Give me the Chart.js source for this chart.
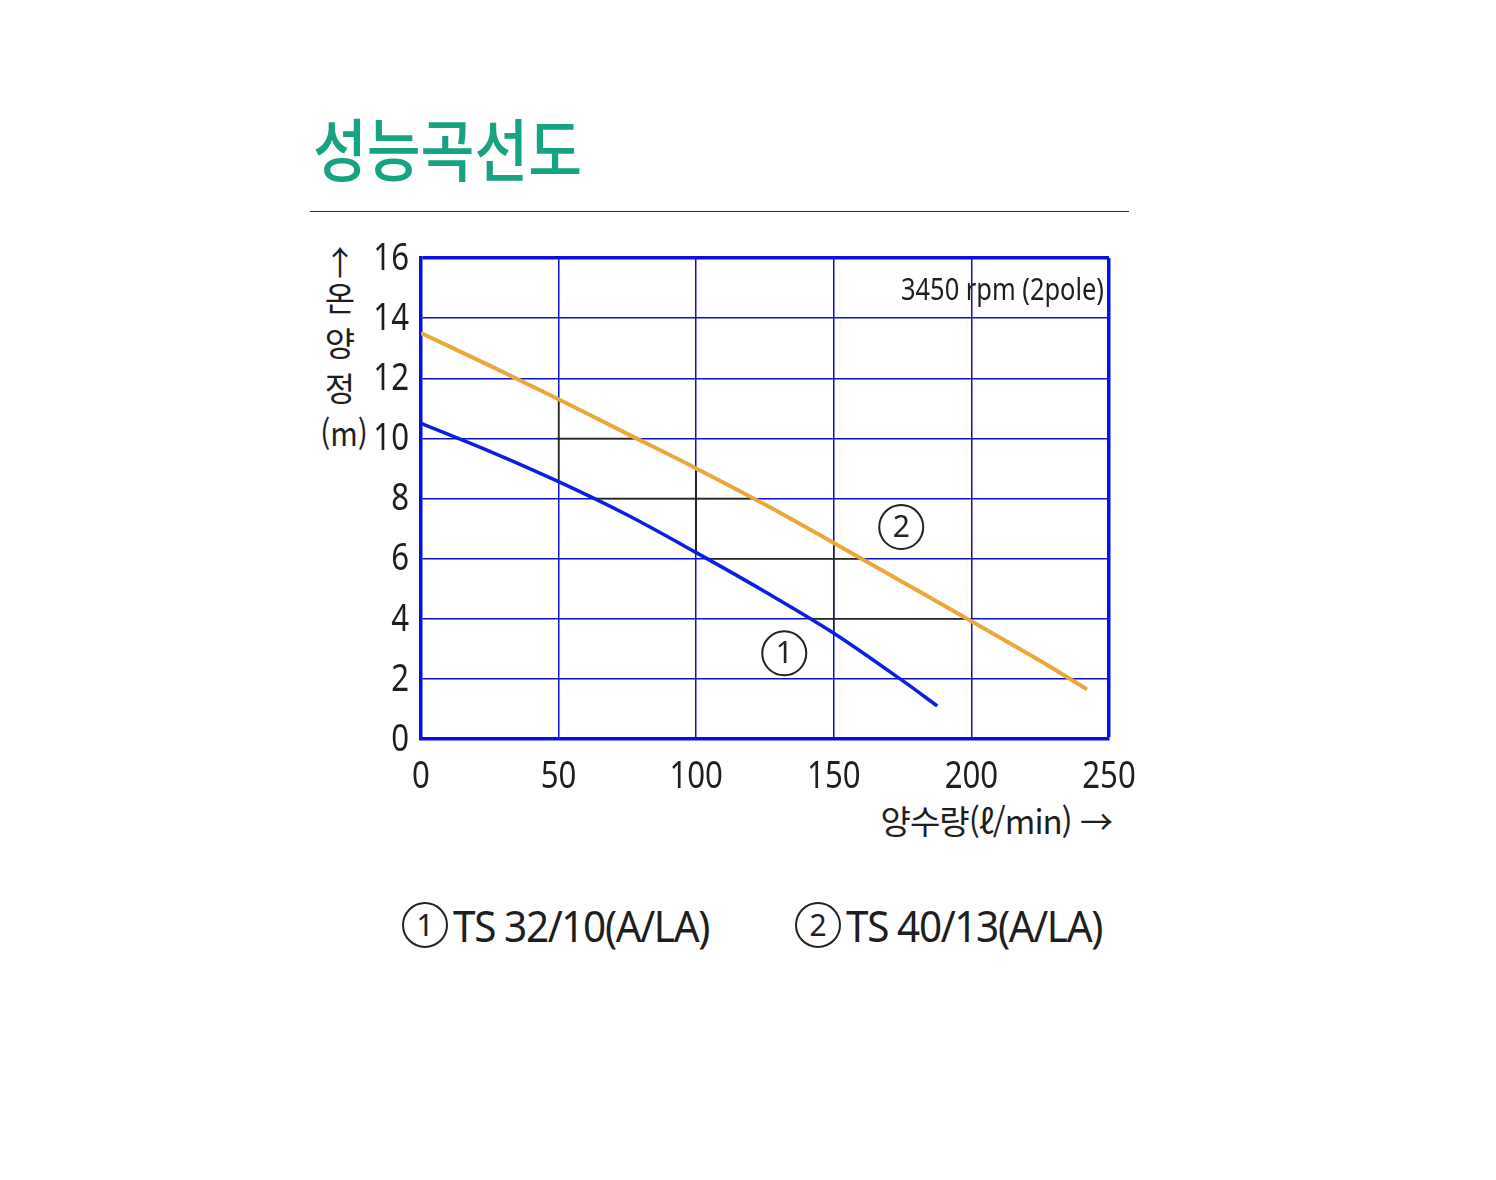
<!DOCTYPE html>
<html lang="ko">
<head>
<meta charset="utf-8">
<title>성능곡선도</title>
<script src="https://cdn.jsdelivr.net/npm/chart.js@4/dist/chart.umd.min.js"></script>
<style>
  html, body { margin: 0; padding: 0; background: #fff; }
  body { width: 1496px; height: 1180px; position: relative; overflow: hidden; }
  #perfChart { position: absolute; left: 0; top: 0; }
  .txt { position: absolute; white-space: nowrap; color: #1e1e1e; line-height: 1; }
  #title {
    left: 313px; top: 97px; font: 500 68px 'Noto Sans CJK KR', sans-serif;
    color: #17a383; transform: scaleX(0.86); transform-origin: left top;
  }
  #rule { position: absolute; left: 310px; top: 211px; width: 819px; height: 0; border-top: 1.5px solid #2a2a2a; }
  #ytitle { left: 318px; top: 237px; width: 44px; text-align: center; font: 400 33px 'Noto Sans CJK KR', sans-serif; }
  #ytitle div { height: 45px; }
  #ytitle div.arrow { height: 36px; }
  #ytitle div.unit { transform: scaleX(0.9); }
  #xtitle { right: 384px; top: 796px; font: 400 33px 'Noto Sans CJK KR', sans-serif; letter-spacing: -1px; }
  .legend { top: 895px; display: flex; align-items: center; }
  .legend .name {
    display: inline-block; font: 400 44px 'Noto Sans', sans-serif; letter-spacing: -1.5px;
    transform: scaleX(0.92); transform-origin: left center;
  }
  .legend .circ {
    display: inline-block; width: 42px; height: 42px; border: 2px solid #222; border-radius: 50%;
    font: 400 30px 'Noto Sans', sans-serif; text-align: center; line-height: 42px; margin-right: 5px;
  }
  #leg1 { left: 402px; }
  #leg2 { left: 795px; }
</style>
</head>
<body>
<div id="title" class="txt">성능곡선도</div>
<div id="rule"></div>
<div id="ytitle" class="txt"><div class="arrow">↑</div><div>온</div><div>양</div><div>정</div><div class="unit">(m)</div></div>
<div id="xtitle" class="txt">양수량(ℓ/min) →</div>
<div id="leg1" class="txt legend"><span class="circ">1</span><span class="name">TS 32/10(A/LA)</span></div>
<div id="leg2" class="txt legend"><span class="circ">2</span><span class="name">TS 40/13(A/LA)</span></div>
<canvas id="perfChart" width="1496" height="1180"></canvas>

<script>
// Axis ticks
const xTicks = [0, 50, 100, 150, 200, 250];
const yTicks = [0, 2, 4, 6, 8, 10, 12, 14, 16];

// ① TS 32/10(A/LA) - flow (l/min) vs head (m)
const flowTS32 = [0, 25, 50, 75, 100, 125, 150, 175, 187.6];
const headTS32 = [10.5, 9.57, 8.56, 7.45, 6.2, 4.9, 3.52, 1.94, 1.1];

// ② TS 40/13(A/LA)
const flowTS40 = [0, 25, 50, 75, 100, 125, 150, 175, 200, 225, 242];
const headTS40 = [13.5, 12.42, 11.3, 10.15, 9.0, 7.8, 6.52, 5.22, 3.92, 2.6, 1.65];

// curve number markers (data coordinates)
const markerNames = ['1', '2'];
const markerFlow = [132, 174.5];
const markerHead = [2.85, 7.05];

const GRID_BLUE = '#0c10c4';
const BORDER_BLUE = '#0a0ee0';
const TEXT_COLOR = '#1e1e1e';
const NUM_FONT = '"Noto Sans", sans-serif';
const SQUEEZE = 0.82; // the original uses a condensed face

function toPoints(xs, ys) {
    return xs.map((x, i) => ({ x: x, y: ys[i] }));
}

// text drawn narrower than the installed fonts allow
function narrowText(ctx, text, x, y, font, align, baseline) {
    ctx.save();
    ctx.translate(x, y);
    ctx.scale(SQUEEZE, 1);
    ctx.font = font;
    ctx.textAlign = align;
    ctx.textBaseline = baseline;
    ctx.fillStyle = TEXT_COLOR;
    ctx.fillText(text, 0, 0);
    ctx.restore();
}

/**
 * Grid parts lying between the two curves are dark in the original,
 * plus condensed tick labels and the curve markers.
 */
const pumpPlugin = {
    id: 'pumpExtras',
    beforeDatasetsDraw(chart) {
        const ctx = chart.ctx;
        const xs = chart.scales.x;
        const ys = chart.scales.y;
        const blue = chart.getDatasetMeta(0).data;
        const orange = chart.getDatasetMeta(1).data;

        // clip to the band between the two curves
        ctx.save();
        ctx.beginPath();
        orange.forEach((p, i) => i ? ctx.lineTo(p.x, p.y) : ctx.moveTo(p.x, p.y));
        for (let i = blue.length - 1; i >= 0; i--) ctx.lineTo(blue[i].x, blue[i].y);
        ctx.closePath();
        ctx.clip();

        const left = xs.getPixelForValue(50) - 2;
        const right = xs.getPixelForValue(200) - 6;
        const top = ys.getPixelForValue(16);
        const bottom = ys.getPixelForValue(3);
        ctx.beginPath();
        ctx.rect(left, top, right - left, bottom - top);
        ctx.clip();

        ctx.strokeStyle = '#222';
        ctx.lineWidth = 1.5;
        ctx.beginPath();
        xTicks.forEach(v => {
            const px = xs.getPixelForValue(v);
            ctx.moveTo(px, chart.chartArea.top);
            ctx.lineTo(px, chart.chartArea.bottom);
        });
        yTicks.forEach(v => {
            const py = ys.getPixelForValue(v);
            ctx.moveTo(chart.chartArea.left, py);
            ctx.lineTo(chart.chartArea.right, py);
        });
        ctx.stroke();
        ctx.restore();
    },
    afterDatasetsDraw(chart) {
        const ctx = chart.ctx;
        const xs = chart.scales.x;
        const ys = chart.scales.y;
        const area = chart.chartArea;
        const tickFont = '38px ' + NUM_FONT;

        // tick labels from the scales' own ticks
        ys.ticks.forEach(t => {
            narrowText(ctx, String(t.value), xs.left - 12, ys.getPixelForValue(t.value) + 1, tickFont, 'right', 'middle');
        });
        xs.ticks.forEach(t => {
            narrowText(ctx, String(t.value), xs.getPixelForValue(t.value), area.bottom + 38, tickFont, 'center', 'middle');
        });

        // speed note, top right of the plot
        narrowText(ctx, '3450 rpm (2pole)', area.right - 5, area.top + 42, '31px ' + NUM_FONT, 'right', 'alphabetic');

        // circled curve numbers
        ctx.save();
        markerNames.forEach((name, i) => {
            const cx = xs.getPixelForValue(markerFlow[i]);
            const cy = ys.getPixelForValue(markerHead[i]);
            ctx.beginPath();
            ctx.arc(cx, cy, 22, 0, Math.PI * 2);
            ctx.lineWidth = 2;
            ctx.strokeStyle = '#222';
            ctx.stroke();
            ctx.font = '30px ' + NUM_FONT;
            ctx.textAlign = 'center';
            ctx.textBaseline = 'middle';
            ctx.fillStyle = '#222';
            ctx.fillText(name, cx, cy + 1);
        });
        ctx.restore();
    }
};

const edgeWidth = (ctx, max) => (ctx.tick && ctx.tick.value === max ? 3.5 : 1.5);
const edgeColor = (ctx, max) => (ctx.tick && ctx.tick.value === max ? BORDER_BLUE : GRID_BLUE);

new Chart(document.getElementById('perfChart'), {
    type: 'line',
    data: {
        datasets: [
            {
                label: 'TS 32/10(A/LA)',
                data: toPoints(flowTS32, headTS32),
                borderColor: '#0a1ee4',
                borderWidth: 3.5,
                pointRadius: 0,
                cubicInterpolationMode: 'monotone',
                fill: false
            },
            {
                label: 'TS 40/13(A/LA)',
                data: toPoints(flowTS40, headTS40),
                borderColor: '#eaa83a',
                borderWidth: 4,
                pointRadius: 0,
                cubicInterpolationMode: 'monotone',
                fill: false
            }
        ]
    },
    options: {
        responsive: false,
        animation: false,
        layout: { padding: { left: 300, top: 258, right: 387, bottom: 341 } },
        plugins: {
            legend: { display: false },
            tooltip: { enabled: false }
        },
        scales: {
            x: {
                type: 'linear',
                min: 0,
                max: 250,
                afterBuildTicks: s => { s.ticks = xTicks.map(v => ({ value: v })); },
                afterFit: s => { s.height = 100; },
                ticks: { display: false },
                grid: {
                    drawTicks: false,
                    color: c => edgeColor(c, 250),
                    lineWidth: c => edgeWidth(c, 250)
                },
                border: { display: true, color: BORDER_BLUE, width: 3.5 }
            },
            y: {
                min: 0,
                max: 16,
                afterBuildTicks: s => { s.ticks = yTicks.map(v => ({ value: v })); },
                afterFit: s => { s.width = 121; },
                ticks: { display: false },
                grid: {
                    drawTicks: false,
                    color: c => edgeColor(c, 16),
                    lineWidth: c => edgeWidth(c, 16)
                },
                border: { display: true, color: BORDER_BLUE, width: 3.5 }
            }
        }
    },
    plugins: [pumpPlugin]
});
</script>
</body>
</html>
